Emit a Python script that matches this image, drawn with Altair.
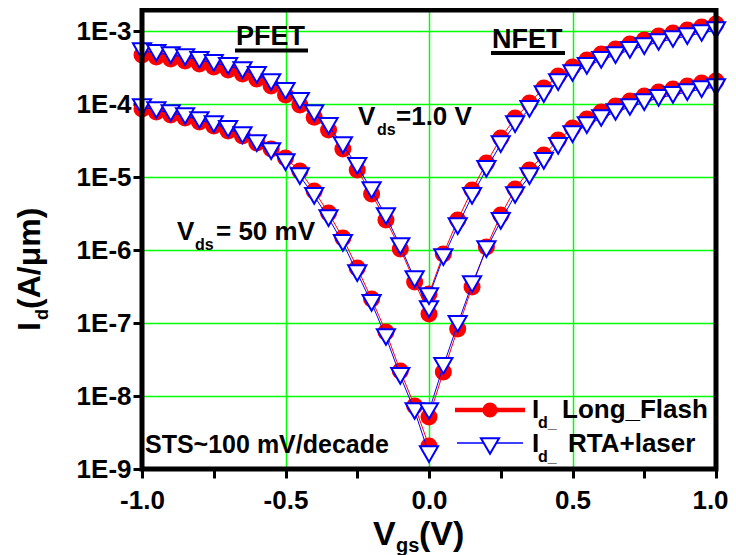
import altair as alt
import pandas as pd

# ---------------- data ----------------
vgs_p = [-1.0, -0.95, -0.9, -0.85, -0.8, -0.75, -0.7, -0.65, -0.6, -0.55, -0.5,
         -0.45, -0.4, -0.35, -0.3, -0.25, -0.2, -0.15, -0.1, -0.05, 0.0]
vgs_n = [0.0, 0.05, 0.1, 0.15, 0.2, 0.25, 0.3, 0.35, 0.4, 0.45, 0.5,
         0.55, 0.6, 0.65, 0.7, 0.75, 0.8, 0.85, 0.9, 0.95, 1.0]

# Id (A/um) - Long_Flash (red circles)
flash_p_hi = [4.69e-4, 4.40e-4, 4.13e-4, 3.88e-4, 3.53e-4, 3.21e-4, 2.92e-4, 2.58e-4, 2.20e-4, 1.77e-4, 1.33e-4,
              9.7e-5, 6.6e-5, 4.4e-5, 2.42e-5, 1.25e-5, 5.85e-6, 2.58e-6, 1.03e-6, 3.65e-7, 1.33e-7]
flash_n_hi = [2.50e-7, 8.8e-7, 2.58e-6, 6.64e-6, 1.56e-5, 3.42e-5, 6.43e-5, 1.03e-4, 1.66e-4, 2.42e-4, 3.21e-4,
              4.01e-4, 4.84e-4, 5.67e-4, 6.64e-4, 7.53e-4, 8.54e-4, 9.39e-4, 1.03e-3, 1.135e-3, 1.25e-3]
flash_p_lo = [8.55e-5, 7.77e-5, 7.07e-5, 6.43e-5, 5.67e-5, 5.0e-5, 4.27e-5, 3.65e-5, 2.92e-5, 2.42e-5, 1.82e-5,
              1.21e-5, 6.43e-6, 3.21e-6, 1.46e-6, 5.67e-7, 2.13e-7, 7.53e-8, 2.2e-8, 7.3e-9, 2.07e-9]
flash_n_lo = [5.15e-9, 2.13e-8, 8.28e-8, 3.11e-7, 1.1e-6, 3.01e-6, 6.85e-6, 1.25e-5, 2.0e-5, 3.21e-5, 4.69e-5,
              6.23e-5, 7.77e-5, 9.39e-5, 1.10e-4, 1.29e-4, 1.46e-4, 1.60e-4, 1.77e-4, 1.94e-4, 2.07e-4]

# Id (A/um) - RTA+laser (blue triangles)
rta_p_hi = [5.32e-4, 5.0e-4, 4.69e-4, 4.40e-4, 4.01e-4, 3.65e-4, 3.32e-4, 2.92e-4, 2.50e-4, 2.0e-4, 1.51e-4,
            1.10e-4, 7.5e-5, 5.0e-5, 2.74e-5, 1.42e-5, 6.6e-6, 2.92e-6, 1.13e-6, 4.0e-7, 1.55e-7]
rta_n_hi = [2.34e-7, 8.0e-7, 2.13e-6, 5.5e-6, 1.29e-5, 2.83e-5, 5.32e-5, 8.55e-5, 1.37e-4, 2.0e-4, 2.66e-4,
            3.32e-4, 4.01e-4, 4.69e-4, 5.5e-4, 6.23e-4, 7.07e-4, 7.77e-4, 8.54e-4, 9.39e-4, 1.03e-3]
rta_p_lo = [9.1e-5, 8.28e-5, 7.53e-5, 6.85e-5, 6.04e-5, 5.32e-5, 4.55e-5, 3.76e-5, 2.92e-5, 2.27e-5, 1.60e-5,
            1.03e-5, 5.5e-6, 2.74e-6, 1.25e-6, 4.84e-7, 1.88e-7, 6.43e-8, 1.88e-8, 6.23e-9, 1.60e-9]
rta_n_lo = [6.23e-9, 2.58e-8, 9.7e-8, 3.42e-7, 1.03e-6, 2.50e-6, 5.67e-6, 1.03e-5, 1.66e-5, 2.66e-5, 3.88e-5,
            5.15e-5, 6.43e-5, 7.77e-5, 9.1e-5, 1.06e-4, 1.21e-4, 1.33e-4, 1.46e-4, 1.60e-4, 1.71e-4]

x_ticks = [-1.0, -0.75, -0.5, -0.25, 0.0, 0.25, 0.5, 0.75, 1.0]
y_ticks = [1e-9, 1e-8, 1e-7, 1e-6, 1e-5, 1e-4, 1e-3]

rows = []
for series, curves in [("Long_Flash", [("p_hi", vgs_p, flash_p_hi), ("n_hi", vgs_n, flash_n_hi),
                                        ("p_lo", vgs_p, flash_p_lo), ("n_lo", vgs_n, flash_n_lo)]),
                       ("RTA+laser", [("p_hi", vgs_p, rta_p_hi), ("n_hi", vgs_n, rta_n_hi),
                                       ("p_lo", vgs_p, rta_p_lo), ("n_lo", vgs_n, rta_n_lo)])]:
    for cname, xs, ys in curves:
        for xv, yv in zip(xs, ys):
            rows.append({"vgs": xv, "id": yv, "series": series, "curve": cname})
df = pd.DataFrame(rows)

# ---------------- layout ----------------
W, H = 574, 459
OX, OY = 142, 10  # page position of plot origin
FONT = "Liberation Sans"
RED = "#ff0000"
BLUE = "#0000ff"
GREEN = "#00ff00"

xscale = alt.Scale(domain=[-1.0, 1.0], nice=False, zero=False)
yscale = alt.Scale(type="log", domain=[1e-9, 1.94e-3], nice=False)

xaxis = alt.Axis(
    values=x_ticks, title=None, domain=False,
    labelExpr="abs(datum.value*2 - round(datum.value*2)) < 0.001 ? ((datum.value < 0 ? '-' : '') + format(abs(datum.value), '.1f')) : ''",
    grid=True, gridColor=GREEN, gridWidth=1.5,
    gridOpacity={"condition": {"test": "abs(datum.value) < 0.9 && abs(datum.value*2 - round(datum.value*2)) < 0.001", "value": 1}, "value": 0},
    labelOffset={"condition": {"test": "datum.value > 0.9", "value": -6}, "value": 0},
    tickColor="black", tickWidth=3, tickSize=9,
    labelFont=FONT, labelFontSize=26, labelFontWeight="bold", labelColor="black",
    labelPadding=9, labelFlush=False, labelOverlap=False,
)
yaxis = alt.Axis(
    values=y_ticks, title=None, domain=False,
    labelExpr="'1E' + round(log(datum.value)/LN10)",
    grid=True, gridColor=GREEN, gridWidth=1.5,
    gridOpacity={"condition": {"test": "datum.value > 2e-9", "value": 1}, "value": 0},
    tickColor="black", tickWidth=3, tickSize=9,
    labelFont=FONT, labelFontSize=26, labelFontWeight="bold", labelColor="black",
    labelPadding=2, labelFlush=False, labelOverlap=False,
)

base = alt.Chart(df).encode(
    x=alt.X("vgs:Q", scale=xscale, axis=xaxis),
    y=alt.Y("id:Q", scale=yscale, axis=yaxis),
    detail="curve:N",
)

red_line = base.transform_filter("datum.series == 'Long_Flash'").mark_line(color=RED, strokeWidth=1)
red_pts = base.transform_filter("datum.series == 'Long_Flash'").mark_point(
    shape="circle", filled=True, color=RED, size=290, opacity=1)
blue_line = base.transform_filter("datum.series == 'RTA+laser'").mark_line(color=BLUE, strokeWidth=1)
blue_pts = base.transform_filter("datum.series == 'RTA+laser'").mark_point(
    shape="triangle-down", filled=True, fill="white", stroke=BLUE, strokeWidth=2, size=330, opacity=1)

one = pd.DataFrame({"a": [0]})


def px(x):
    return x - OX


def py(y):
    return y - OY


def text(s, x, y, size, angle=0, weight="bold"):
    return alt.Chart(pd.DataFrame({"t": [s]})).mark_text(
        align="left", baseline="alphabetic", font=FONT, fontSize=size,
        fontWeight=weight, color="black", angle=angle,
    ).encode(text="t:N", x=alt.value(px(x)), y=alt.value(py(y)))


def hrule(x1, x2, y, color, width):
    return alt.Chart(one).mark_rule(color=color, strokeWidth=width).encode(
        x=alt.value(px(x1)), x2=alt.value(px(x2)), y=alt.value(py(y)))


def marker(x, y, **kw):
    return alt.Chart(one).mark_point(opacity=1, **kw).encode(
        x=alt.value(px(x)), y=alt.value(py(y)))


annotations = [
    text("PFET", 236, 45, 27), hrule(235, 308, 50.5, "black", 4),
    text("NFET", 492, 48, 27), hrule(491, 565, 53, "black", 4),
    text("V", 358, 125, 26), text("ds", 377, 135, 16), text("=1.0 V", 396, 125, 26),
    text("V", 177, 240, 26), text("ds", 195, 250, 16), text("= 50 mV", 216, 240, 26),
    text("STS~100 mV/decade", 145, 453, 25),
    # legend
    hrule(455, 525, 410, RED, 4.5),
    marker(490, 410, shape="circle", filled=True, color=RED, size=230),
    hrule(457, 523, 443, BLUE, 1.5),
    marker(490, 446, shape="triangle-down", filled=True, fill="white", stroke=BLUE, strokeWidth=2, size=330),
    text("I", 532, 418, 26), text("d_", 538, 428, 16), text("Long_Flash", 562, 418, 26),
    text("I", 532, 452, 26), text("d_", 538, 462, 16), text("RTA+laser", 568, 452, 26),
    # axis titles
    text("V", 373, 545, 34), text("gs", 396, 552, 20), text("(V)", 419, 545, 34),
    text("I", 40, 331, 32, angle=270), text("d", 48, 320, 18, angle=270),
    text("(A/\u03bcm)", 40, 309, 32, angle=270),
]

frame = alt.Chart(one).mark_rect(fillOpacity=0, stroke="black", strokeWidth=5).encode(
    x=alt.value(0), x2=alt.value(W), y=alt.value(0), y2=alt.value(H))

chart = alt.layer(red_line, red_pts, blue_line, blue_pts, *annotations, frame).properties(
    width=W, height=H,
    padding={"left": OX - 8, "top": OY - 8, "right": 12, "bottom": 86},
    autosize=alt.AutoSizeParams(type="none"),
).configure_view(strokeWidth=0).configure(background="white")

chart.save("out.html", embed_options={"renderer": "svg", "actions": False})
